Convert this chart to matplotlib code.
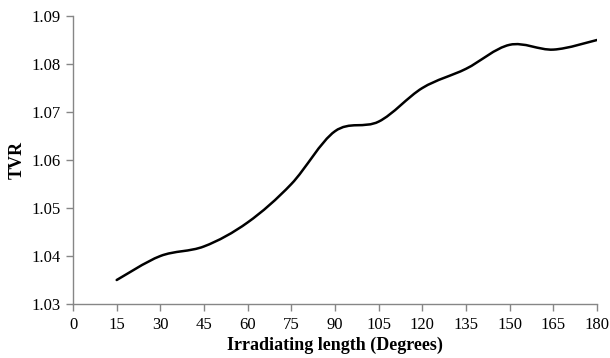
import matplotlib
matplotlib.use('Agg')
import matplotlib.pyplot as plt
from matplotlib.path import Path
from matplotlib.patches import PathPatch
import numpy as np

matplotlib.rcParams['font.family'] = 'Liberation Serif'
matplotlib.rcParams['font.size'] = 12

angles = [15, 30, 45, 60, 75, 90, 105, 120, 135, 150, 165, 180]
tvr = [1.035, 1.040, 1.042, 1.047, 1.055, 1.066, 1.068, 1.075, 1.079, 1.084, 1.083, 1.085]

fig = plt.figure(figsize=(6.1, 3.58), dpi=100)
ax = fig.add_axes([0.1197, 0.1508, 0.8590, 0.8045])

# smoothed line (Excel style) as cubic Bezier segments through the points
x = np.array(angles, dtype=float)
y = np.array(tvr, dtype=float)
verts = [(x[0], y[0])]
codes = [Path.MOVETO]
n = len(x)
for i in range(n - 1):
    x0, y0 = (x[i - 1], y[i - 1]) if i > 0 else (x[i], y[i])
    x3, y3 = (x[i + 2], y[i + 2]) if i + 2 < n else (x[i + 1], y[i + 1])
    c1 = (x[i] + (x[i + 1] - x0) / 6, y[i] + (y[i + 1] - y0) / 6)
    c2 = (x[i + 1] - (x3 - x[i]) / 6, y[i + 1] - (y3 - y[i]) / 6)
    verts += [c1, c2, (x[i + 1], y[i + 1])]
    codes += [Path.CURVE4] * 3
ax.add_patch(PathPatch(Path(verts, codes), fill=False, edgecolor='black', lw=1.8,
                       capstyle='round', joinstyle='round'))

ax.set_xlim(0, 180)
ax.set_ylim(1.03, 1.09)
ax.set_xticks(np.arange(0, 181, 15))
ax.set_yticks(np.arange(1.03, 1.0901, 0.01))
ax.set_yticklabels([f'{v:.2f}' for v in np.arange(1.03, 1.0901, 0.01)])

for s in ['top', 'right']:
    ax.spines[s].set_visible(False)
for s in ['left', 'bottom']:
    ax.spines[s].set_color('#868686')
    ax.spines[s].set_linewidth(1.0)
ax.tick_params(direction='out', length=5, width=1.0, color='#868686', labelsize=12, pad=4)

ax.set_xlabel('Irradiating length (Degrees)', fontweight='bold', fontsize=13, labelpad=3)
ax.set_ylabel('TVR', fontweight='bold', fontsize=13, labelpad=4)

plt.savefig('out.png', dpi=100)
